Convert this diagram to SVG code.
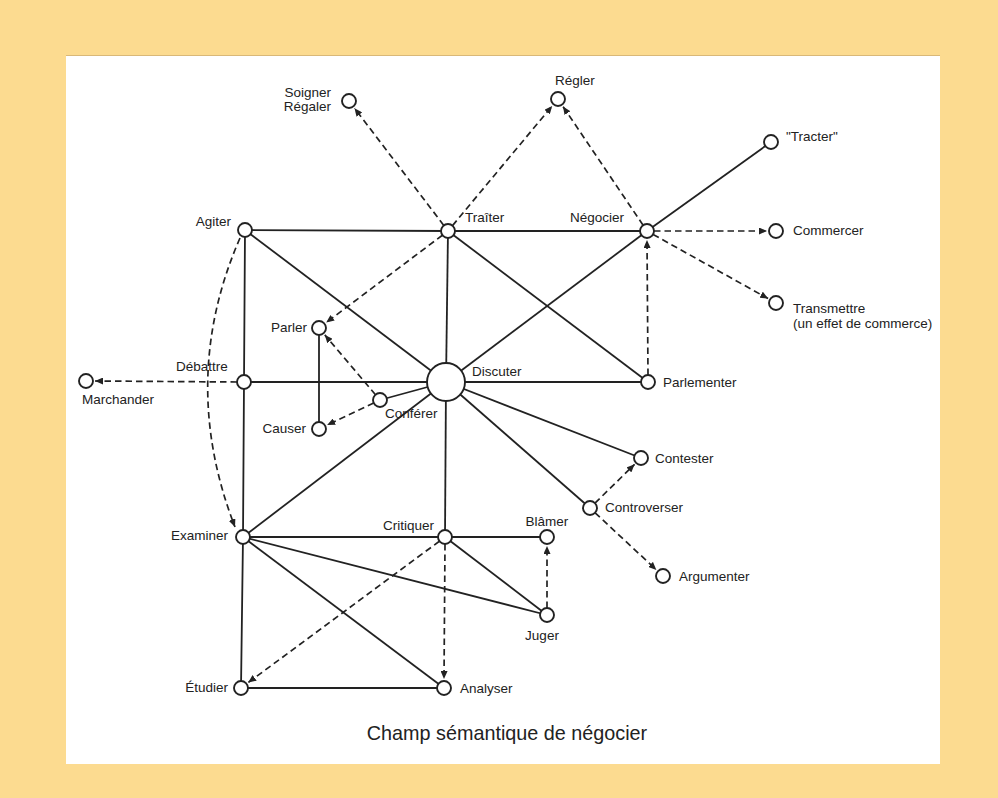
<svg xmlns="http://www.w3.org/2000/svg" width="998" height="798" viewBox="0 0 998 798">
<style>
.bg{fill:#FCDB90}
.panel{fill:#ffffff}
.s{stroke:#222;stroke-width:1.8;fill:none}
.d{stroke:#222;stroke-width:1.7;fill:none;stroke-dasharray:6.5 4;marker-end:url(#ah)}
.n circle{fill:#fff;stroke:#222;stroke-width:1.9}
text{font-family:"Liberation Sans",Arial,Helvetica,sans-serif;font-size:13.5px;fill:#222}
.e{text-anchor:end}
.m{text-anchor:middle}
.cap{font-size:19.8px;text-anchor:middle}
</style>
<defs>
<marker id="ah" markerUnits="userSpaceOnUse" markerWidth="9" markerHeight="7" refX="8" refY="3.5" orient="auto">
<path d="M0,0 L8,3.5 L0,7 z" fill="#222"/>
</marker>
</defs>
<rect class="bg" x="0" y="0" width="998" height="798"/>
<rect class="panel" x="66" y="55" width="874" height="709"/>
<line x1="66" y1="55.5" x2="940" y2="55.5" stroke="#d9b878" stroke-width="1"/>

<g id="connectors">
<line class="s" x1="245" y1="230" x2="448" y2="231"/>
<line class="s" x1="448" y1="231" x2="647" y2="231"/>
<line class="s" x1="647" y1="231" x2="771" y2="142"/>
<line class="s" x1="245" y1="230" x2="446" y2="382"/>
<polyline class="s" points="245,230 244,382 243,537 241,688"/>
<line class="s" x1="448" y1="231" x2="446" y2="382"/>
<line class="s" x1="448" y1="231" x2="648" y2="382"/>
<line class="s" x1="647" y1="231" x2="446" y2="382"/>
<line class="s" x1="244" y1="382" x2="446" y2="382"/>
<line class="s" x1="446" y1="382" x2="648" y2="382"/>
<line class="s" x1="319" y1="328" x2="319" y2="429"/>
<line class="s" x1="380" y1="400" x2="446" y2="382"/>
<line class="s" x1="446" y1="382" x2="243" y2="537"/>
<line class="s" x1="446" y1="382" x2="445" y2="537"/>
<line class="s" x1="446" y1="382" x2="641" y2="458"/>
<line class="s" x1="446" y1="382" x2="590" y2="508"/>
<line class="s" x1="243" y1="537" x2="445" y2="537"/>
<line class="s" x1="445" y1="537" x2="547" y2="537"/>
<line class="s" x1="243" y1="537" x2="547" y2="615"/>
<line class="s" x1="445" y1="537" x2="547" y2="615"/>
<line class="s" x1="243" y1="537" x2="444" y2="688"/>
<line class="s" x1="241" y1="688" x2="444" y2="688"/>
<line class="d" x1="443.8" y1="225.4" x2="354.5" y2="108.2"/>
<line class="d" x1="452.5" y1="225.6" x2="552.2" y2="105.9"/>
<line class="d" x1="643.1" y1="225.2" x2="563.0" y2="106.5"/>
<line class="d" x1="654" y1="231" x2="767" y2="231"/>
<line class="d" x1="653.1" y1="234.4" x2="768.1" y2="298.6"/>
<line class="d" x1="442.4" y1="235.2" x2="326.2" y2="322.6"/>
<line class="d" x1="648" y1="375" x2="647" y2="240"/>
<line class="d" x1="237" y1="382" x2="95" y2="381"/>
<line class="d" x1="375.5" y1="394.7" x2="324.8" y2="334.9"/>
<line class="d" x1="373.7" y1="403" x2="327.1" y2="425.1"/>
<path class="d" d="M240,238 Q178,380 235,527"/>
<line class="d" x1="595" y1="503.1" x2="634.6" y2="464.3"/>
<line class="d" x1="595.1" y1="512.8" x2="656.4" y2="569.9"/>
<line class="d" x1="439.4" y1="541.2" x2="248.2" y2="682.6"/>
<line class="d" x1="445" y1="544" x2="444" y2="679"/>
<line class="d" x1="547" y1="608" x2="547" y2="546"/>
</g>

<g id="soigner" class="n"><circle cx="349" cy="101" r="7"/><text class="e" x="331" y="97">Soigner</text><text class="e" x="331" y="111">Régaler</text></g>
<g id="regler" class="n"><circle cx="558" cy="99" r="7"/><text x="555" y="85">Régler</text></g>
<g id="tracter" class="n"><circle cx="771" cy="142" r="7"/><text x="786" y="141">"Tracter"</text></g>
<g id="agiter" class="n"><circle cx="245" cy="230" r="7"/><text class="e" x="231" y="226">Agiter</text></g>
<g id="traiter" class="n"><circle cx="448" cy="231" r="7"/><text x="465" y="222">Traîter</text></g>
<g id="negocier" class="n"><circle cx="647" cy="231" r="7"/><text x="570" y="222">Négocier</text></g>
<g id="commercer" class="n"><circle cx="776" cy="231" r="7"/><text x="793" y="235">Commercer</text></g>
<g id="transmettre" class="n"><circle cx="776" cy="303" r="7"/><text x="793" y="313">Transmettre</text><text x="793" y="328">(un effet de commerce)</text></g>
<g id="parler" class="n"><circle cx="319" cy="328" r="7"/><text class="e" x="307" y="332">Parler</text></g>
<g id="debattre" class="n"><circle cx="244" cy="382" r="7"/><text x="176" y="371">Débattre</text></g>
<g id="marchander" class="n"><circle cx="86" cy="381" r="7"/><text x="82" y="404">Marchander</text></g>
<g id="discuter" class="n"><circle cx="446" cy="382" r="19"/><text x="472" y="376">Discuter</text></g>
<g id="conferer" class="n"><circle cx="380" cy="400" r="7"/><text x="385" y="418">Conférer</text></g>
<g id="causer" class="n"><circle cx="319" cy="429" r="7"/><text class="e" x="306" y="433">Causer</text></g>
<g id="parlementer" class="n"><circle cx="648" cy="382" r="7"/><text x="663" y="387">Parlementer</text></g>
<g id="contester" class="n"><circle cx="641" cy="458" r="7"/><text x="655" y="463">Contester</text></g>
<g id="controverser" class="n"><circle cx="590" cy="508" r="7"/><text x="605" y="512">Controverser</text></g>
<g id="examiner" class="n"><circle cx="243" cy="537" r="7"/><text class="e" x="228" y="540">Examiner</text></g>
<g id="critiquer" class="n"><circle cx="445" cy="537" r="7"/><text class="e" x="434" y="530">Critiquer</text></g>
<g id="blamer" class="n"><circle cx="547" cy="537" r="7"/><text class="m" x="547" y="526">Blâmer</text></g>
<g id="argumenter" class="n"><circle cx="663" cy="576" r="7"/><text x="679" y="581">Argumenter</text></g>
<g id="juger" class="n"><circle cx="547" cy="615" r="7"/><text class="m" x="542" y="640">Juger</text></g>
<g id="etudier" class="n"><circle cx="241" cy="688" r="7"/><text class="e" x="228" y="692">Étudier</text></g>
<g id="analyser" class="n"><circle cx="444" cy="688" r="7"/><text x="460" y="693">Analyser</text></g>

<text class="cap" x="507" y="740">Champ sémantique de négocier</text>
</svg>
